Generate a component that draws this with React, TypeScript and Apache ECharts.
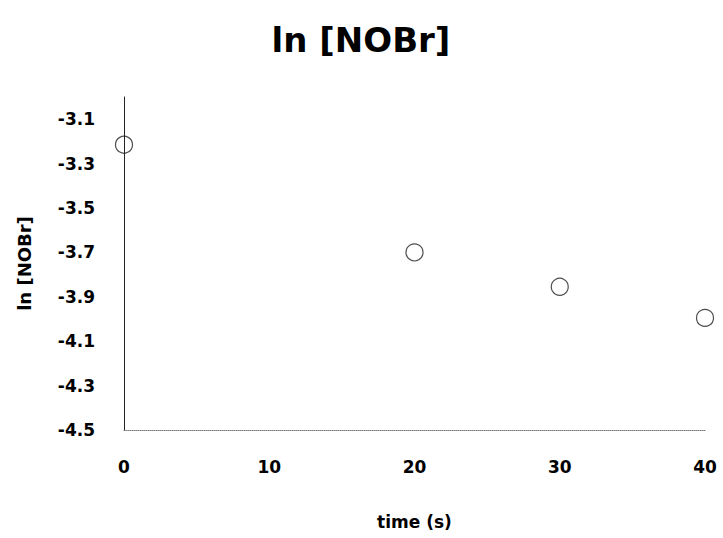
import React, { useEffect, useRef } from "react";
import * as echarts from "echarts";

const times = [0, 20, 30, 40];
const lnValues = [-3.215, -3.7, -3.855, -3.995];
const xTicks = [0, 10, 20, 30, 40];
const yTicks = [-4.5, -4.3, -4.1, -3.9, -3.7, -3.5, -3.3, -3.1];

const FONT = "'DejaVu Sans', sans-serif";

export default function App() {
  const ref = useRef<HTMLDivElement>(null);
  useEffect(() => {
    if (!ref.current) return;
    const chart = echarts.init(ref.current, null, { renderer: "svg" });
    chart.setOption({
      animation: false,
      backgroundColor: "#ffffff",
      title: {
        text: "ln [NOBr]",
        left: 356,
        top: 18,
        textAlign: "center",
        textStyle: { fontFamily: FONT, fontWeight: "bold", fontSize: 34, color: "#000" },
      },
      grid: { left: 124, right: 18, top: 97, bottom: 108, containLabel: false },
      xAxis: {
        type: "value",
        min: 0,
        max: 40,
        interval: 10,
        name: "time (s)",
        nameLocation: "middle",
        nameGap: 83,
        nameTextStyle: { fontFamily: FONT, fontWeight: "bold", fontSize: 17, color: "#000" },
        axisLine: { show: true, onZero: false, lineStyle: { color: "#777", width: 1, type: "dotted" } },
        axisTick: { show: false },
        splitLine: { show: false },
        axisLabel: {
          margin: 28,
          fontFamily: FONT,
          fontWeight: "bold",
          fontSize: 17,
          color: "#000",
          customValues: xTicks,
        },
      },
      yAxis: {
        type: "value",
        min: -4.5,
        max: -3.0,
        interval: 0.2,
        name: "ln [NOBr]",
        nameLocation: "middle",
        nameGap: 91,
        nameTextStyle: { fontFamily: FONT, fontWeight: "bold", fontSize: 18, color: "#000" },
        axisLine: { show: true, onZero: false, lineStyle: { color: "#222", width: 1 } },
        axisTick: { show: false },
        splitLine: { show: false },
        axisLabel: {
          margin: 29,
          fontFamily: FONT,
          fontWeight: "bold",
          fontSize: 17,
          color: "#000",
          customValues: yTicks,
          formatter: (v: number) => v.toFixed(1),
        },
      },
      series: [
        {
          type: "scatter",
          data: times.map((t, i) => [t, lnValues[i]]),
          symbol: "circle",
          symbolSize: 17,
          itemStyle: { color: "rgba(255,255,255,0)", borderColor: "#222", borderWidth: 1.2 },
        },
      ],
    });
    return () => chart.dispose();
  }, []);
  return <div ref={ref} style={{ width: 723, height: 538, position: "absolute", left: 0, top: 0 }} />;
}
